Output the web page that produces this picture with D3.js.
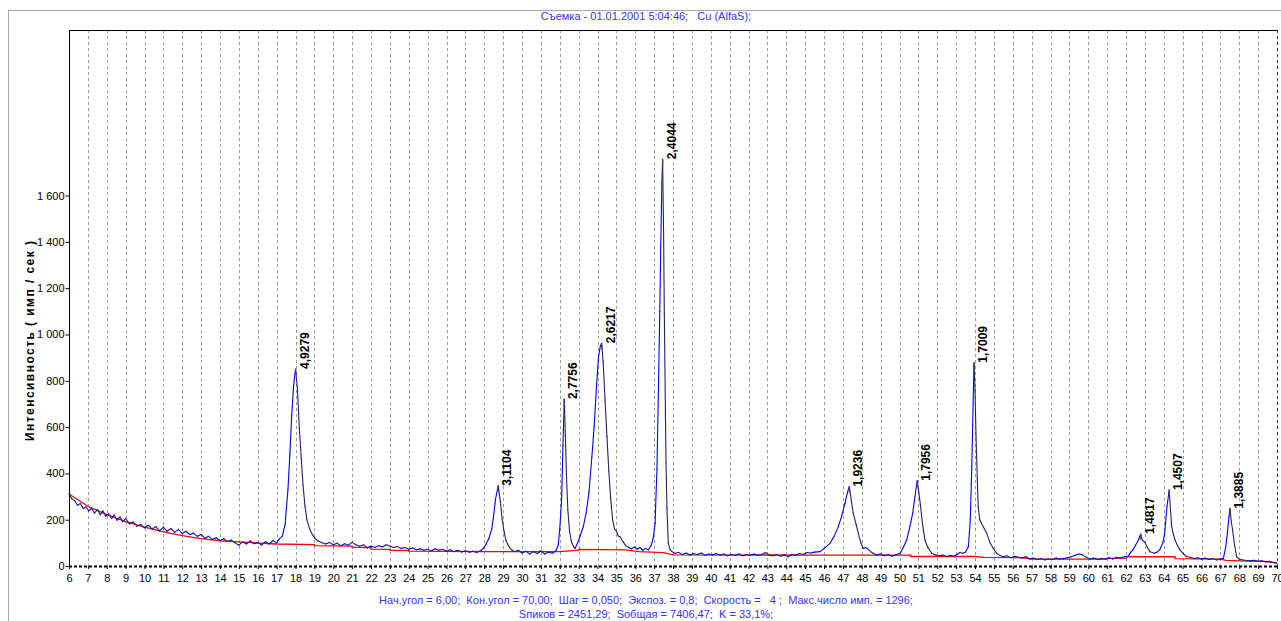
<!DOCTYPE html>
<html><head><meta charset="utf-8">
<script src="https://cdn.jsdelivr.net/npm/d3@7"></script>
<style>body{margin:0;background:#fff;} svg{display:block;font-family:"Liberation Sans",Arial,sans-serif;}</style>
</head><body><svg id="c" width="1281" height="621"></svg>
<script>
const titleText = "Съемка - 01.01.2001 5:04:46;   Cu (AlfaS);";
const footerLine1 = "Нач.угол = 6,00;  Кон.угол = 70,00;  Шаг = 0,050;  Экспоз. = 0,8;  Скорость =   4 ;  Макс.число имп. = 1296;";
const footerLine2 = "Sпиков = 2451,29;  Sобщая = 7406,47;  K = 33,1%;";
const yAxisLabel = "Интенсивность ( имп / сек )";
const xTicks = [6,7,8,9,10,11,12,13,14,15,16,17,18,19,20,21,22,23,24,25,26,27,28,29,30,31,32,33,34,35,36,37,38,39,40,41,42,43,44,45,46,47,48,49,50,51,52,53,54,55,56,57,58,59,60,61,62,63,64,65,66,67,68,69,70];
const yTicks = [0,200,400,600,800,1000,1200,1400,1600];
const peakLabels = ["4,9279","3,1104","2,7756","2,6217","2,4044","1,9236","1,7956","1,7009","1,4817","1,4507","1,3885"];
const peakAngles = [18.01,28.74,32.24,34.22,37.45,47.34,50.94,53.95,62.78,64.29,67.51];
const peakHeights = [851,347,721,962,1757,343,368,878,138,328,248];

// measured profile [2θ, intensity]
const profile = [
[6.0,312],[6.15,290],[6.3,282],[6.45,262],[6.6,270],[6.75,248],[6.9,255],[7.05,238],[7.2,250],[7.35,228],[7.5,244],[7.65,222],[7.8,238],[7.95,215],[8.1,226],[8.25,205],[8.4,220],[8.55,198],[8.7,212],[8.85,192],[9.0,205],[9.2,182],[9.4,190],[9.6,172],[9.8,180],[10.0,165],[10.2,176],[10.4,160],[10.6,170],[10.8,152],[11.0,168],[11.2,150],[11.4,162],[11.6,145],[11.8,158],[12.0,140],[12.2,150],[12.4,135],[12.6,142],[12.8,128],[13.0,136],[13.2,120],[13.4,128],[13.6,115],[13.8,122],[14.0,110],[14.2,118],[14.4,106],[14.6,112],[14.8,100],[15.0,90],[15.2,104],[15.4,95],[15.6,108],[15.8,96],[16.0,102],[16.2,90],[16.4,105],[16.6,95],[16.8,110],[17.0,100],[17.15,118],[17.3,128],[17.45,180],[17.6,330],[17.7,480],[17.8,650],[17.9,780],[18.0,851],[18.1,770],[18.2,600],[18.3,470],[18.4,350],[18.5,260],[18.6,200],[18.75,160],[18.9,135],[19.05,118],[19.2,108],[19.4,100],[19.6,95],[19.8,102],[20.0,92],[20.2,98],[20.4,88],[20.6,96],[20.8,90],[21.0,102],[21.2,92],[21.4,85],[21.6,92],[21.8,78],[22.0,86],[22.2,80],[22.4,88],[22.6,82],[22.8,92],[23.0,86],[23.2,80],[23.4,84],[23.6,76],[23.8,80],[24.0,72],[24.2,78],[24.4,70],[24.6,74],[24.8,68],[25.0,72],[25.2,66],[25.4,74],[25.6,68],[25.8,72],[26.0,64],[26.2,70],[26.4,62],[26.6,68],[26.8,60],[27.0,66],[27.2,60],[27.4,64],[27.6,58],[27.8,66],[27.95,76],[28.1,95],[28.25,120],[28.4,160],[28.5,220],[28.6,290],[28.74,347],[28.85,280],[28.95,200],[29.05,150],[29.15,110],[29.3,84],[29.45,70],[29.6,62],[29.8,68],[30.0,56],[30.2,64],[30.4,52],[30.6,62],[30.8,54],[31.0,66],[31.2,52],[31.4,60],[31.6,55],[31.8,66],[31.92,90],[32.0,160],[32.1,290],[32.17,520],[32.24,721],[32.3,560],[32.36,380],[32.43,240],[32.52,150],[32.62,105],[32.72,85],[32.81,76],[32.95,100],[33.1,135],[33.25,170],[33.4,230],[33.55,320],[33.7,470],[33.82,600],[33.95,780],[34.05,900],[34.15,950],[34.22,962],[34.3,880],[34.4,717],[34.5,560],[34.6,410],[34.7,290],[34.8,200],[34.9,160],[35.0,150],[35.1,130],[35.2,125],[35.35,105],[35.5,88],[35.65,80],[35.8,74],[35.95,82],[36.1,72],[36.25,80],[36.4,68],[36.55,76],[36.7,70],[36.85,90],[36.95,120],[37.05,184],[37.15,420],[37.22,731],[37.3,1100],[37.35,1380],[37.41,1650],[37.45,1757],[37.5,1450],[37.54,1093],[37.6,650],[37.63,445],[37.68,250],[37.75,99],[37.85,70],[37.95,62],[38.1,55],[38.3,58],[38.5,50],[38.7,56],[38.9,48],[39.1,54],[39.3,50],[39.5,56],[39.7,46],[39.9,52],[40.1,48],[40.3,54],[40.5,46],[40.7,52],[40.9,44],[41.1,50],[41.3,46],[41.5,52],[41.7,44],[41.9,50],[42.1,46],[42.3,52],[42.5,46],[42.7,50],[42.9,58],[43.1,48],[43.3,44],[43.5,50],[43.7,42],[43.9,48],[44.1,40],[44.3,50],[44.5,46],[44.7,54],[44.9,50],[45.1,58],[45.3,56],[45.5,60],[45.79,62],[46.0,75],[46.32,98],[46.55,130],[46.76,170],[46.95,220],[47.11,271],[47.25,320],[47.34,343],[47.45,280],[47.55,228],[47.7,180],[47.82,141],[47.95,100],[48.08,76],[48.2,80],[48.35,72],[48.5,60],[48.61,55],[48.8,48],[49.0,52],[49.2,44],[49.4,50],[49.6,42],[49.8,48],[50.03,55],[50.2,80],[50.38,112],[50.55,170],[50.7,228],[50.82,300],[50.94,368],[51.02,320],[51.12,256],[51.22,180],[51.35,112],[51.5,80],[51.71,55],[51.9,48],[52.1,44],[52.3,47],[52.5,40],[52.7,46],[52.9,42],[53.05,50],[53.2,58],[53.35,55],[53.5,60],[53.65,83],[53.75,200],[53.83,429],[53.9,700],[53.95,878],[54.0,760],[54.05,573],[54.12,380],[54.17,256],[54.25,200],[54.35,184],[54.5,160],[54.62,141],[54.8,100],[54.97,76],[55.15,55],[55.33,45],[55.5,40],[55.7,44],[55.9,36],[56.1,42],[56.3,38],[56.5,34],[56.7,40],[56.9,30],[57.1,34],[57.3,28],[57.5,32],[57.7,26],[57.9,30],[58.1,28],[58.3,34],[58.5,30],[58.7,32],[58.9,36],[59.1,40],[59.3,46],[59.5,52],[59.7,48],[59.9,38],[60.1,30],[60.3,34],[60.5,28],[60.7,32],[60.9,30],[61.1,36],[61.3,30],[61.5,38],[61.7,34],[61.9,40],[62.12,42],[62.25,60],[62.39,72],[62.52,92],[62.66,112],[62.78,138],[62.88,110],[63.0,102],[63.15,78],[63.27,62],[63.4,58],[63.5,55],[63.65,60],[63.8,72],[63.95,100],[64.05,141],[64.17,256],[64.29,328],[64.36,240],[64.42,170],[64.5,140],[64.6,112],[64.72,90],[64.86,69],[65.05,52],[65.22,40],[65.4,38],[65.6,32],[65.8,36],[66.0,30],[66.2,34],[66.4,28],[66.6,32],[66.8,26],[67.0,30],[67.16,33],[67.28,80],[67.37,141],[67.45,210],[67.51,248],[67.58,190],[67.65,155],[67.75,90],[67.86,40],[68.0,30],[68.2,26],[68.4,24],[68.6,22],[68.8,25],[69.0,20],[69.2,22],[69.4,18],[69.6,20],[69.8,15],[70.0,12]
];
// background [2θ, intensity]
const background = [
[6,311],[7,258],[8,222],[9,192],[10,168],[11,147],[12,131],[13,118],[14,109],[15,104],[16,99],[17,95],[19,92],[19,88],[21,86],[21,81],[22,80],[22,73],[23,72],[23,68],[24,67],[24,64],[28,62],[32,62],[33,68],[33,72],[35.5,70],[36.2,62],[37.5,58],[38,48],[46,47],[50.6,47],[50.6,41],[54,41],[54.5,37],[56.5,36],[57,30],[61,30],[61,33],[62,34],[62,40],[64.6,40],[64.6,32],[67,30],[67.3,24],[68,22],[69.5,19],[70,12]
];

const svg = d3.select("#c");
const W = 1281, H = 621;
const x = d3.scaleLinear().domain([6,70]).range([69,1277]);
const y = d3.scaleLinear().domain([0,2315]).range([566,30]);

// outer frame
svg.append("line").attr("x1",8).attr("x2",W).attr("y1",10.5).attr("y2",10.5).attr("stroke","#a8a8a8");
svg.append("line").attr("x1",8.5).attr("x2",8.5).attr("y1",10).attr("y2",H).attr("stroke","#a8a8a8");

// title
svg.append("text").attr("x",646).attr("y",20).attr("text-anchor","middle")
  .attr("font-size",11).attr("fill","#3333ff").style("white-space","pre").text(titleText);

// vertical grid
svg.append("g").selectAll("line").data(xTicks.filter(d=>d>6&&d<70)).join("line")
  .attr("x1",d=>Math.round(x(d))+0.5).attr("x2",d=>Math.round(x(d))+0.5)
  .attr("y1",30).attr("y2",566).attr("stroke","#9a9a9a").attr("stroke-dasharray","3,3");

// frame top & right
svg.append("line").attr("x1",69).attr("x2",1278).attr("y1",30.5).attr("y2",30.5).attr("stroke","#000");
svg.append("line").attr("x1",1277.5).attr("x2",1277.5).attr("y1",30).attr("y2",566).attr("stroke","#333").attr("stroke-dasharray","3,3");

// background line
svg.append("path").datum(background)
  .attr("d",d3.line().x(d=>x(d[0])).y(d=>y(d[1])))
  .attr("fill","none").attr("stroke","#ff0000").attr("stroke-width",1.3);

// profile segments colored by direction
const segs = d3.pairs(profile);
svg.append("g").selectAll("line").data(segs).join("line")
  .attr("x1",d=>x(d[0][0])).attr("y1",d=>y(d[0][1]))
  .attr("x2",d=>x(d[1][0])).attr("y2",d=>y(d[1][1]))
  .attr("stroke",d=>d[1][1]>=d[0][1]?"#0000ff":"#22226a")
  .attr("stroke-width",1.1).attr("stroke-linecap","round");

// peak markers & labels
const peaks = peakLabels.map((l,i)=>({l,a:peakAngles[i],h:peakHeights[i]}));
svg.append("g").selectAll("line").data(peaks).join("line")
  .attr("x1",d=>x(d.a)).attr("x2",d=>x(d.a)).attr("y1",d=>y(d.h)).attr("y2",d=>y(d.h)+6)
  .attr("stroke","#6b2a6b").attr("stroke-width",1.2);
svg.append("g").selectAll("text").data(peaks).join("text")
  .attr("transform",d=>`translate(${x(d.a)+13},${y(d.h)}) rotate(-90)`)
  .attr("font-size",12).attr("font-weight","bold").attr("fill","#000").text(d=>d.l);

// x axis (dashed baseline)
svg.append("line").attr("x1",69).attr("x2",1278).attr("y1",566.5).attr("y2",566.5)
  .attr("stroke","#000").attr("stroke-width",2).attr("stroke-dasharray","3,2");
const xa = svg.append("g").attr("transform","translate(0,566)")
  .call(d3.axisBottom(x).tickValues(xTicks).tickSize(3).tickFormat(d=>d));
xa.select(".domain").remove();
xa.selectAll("text").attr("font-size",11).attr("font-family","Liberation Sans, Arial").attr("fill","#000").attr("dy","0.95em");

// y axis
const fmt = d => d>=1000 ? Math.floor(d/1000)+" "+String(d%1000).padStart(3,"0") : String(d);
const ya = svg.append("g").attr("transform","translate(69.5,0)")
  .call(d3.axisLeft(y).tickValues(yTicks).tickSize(4).tickFormat(fmt));
ya.select(".domain").attr("d","M0,30V567");
ya.selectAll("text").attr("font-size",11).attr("font-family","Liberation Sans, Arial").attr("fill","#000").attr("x",-5);

// y label
svg.append("text").attr("transform","translate(34,341) rotate(-90)").attr("text-anchor","middle")
  .attr("font-size",12).attr("font-weight","bold").attr("textLength",200).attr("lengthAdjust","spacing")
  .style("white-space","pre").text(yAxisLabel);

// footer
svg.append("text").attr("x",646).attr("y",604).attr("text-anchor","middle").attr("font-size",11)
  .attr("fill","#3333ff").style("white-space","pre").text(footerLine1);
svg.append("text").attr("x",646).attr("y",618).attr("text-anchor","middle").attr("font-size",11)
  .attr("fill","#3333ff").style("white-space","pre").text(footerLine2);
</script></body></html>
